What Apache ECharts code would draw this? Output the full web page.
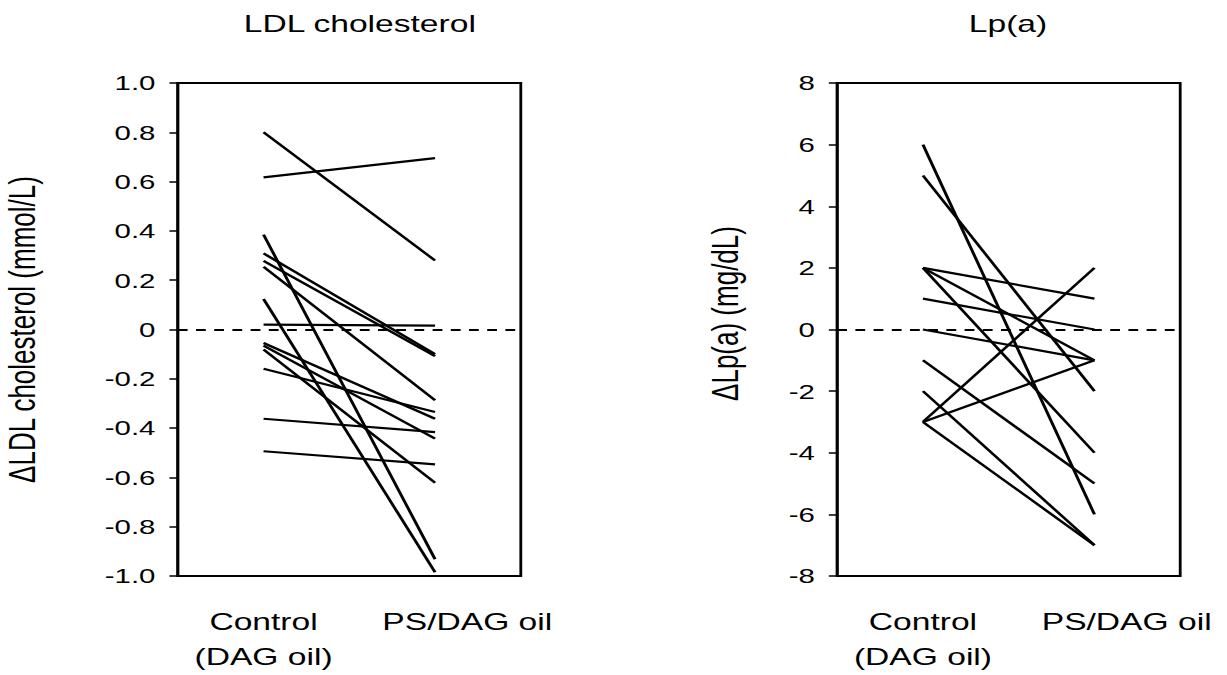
<!DOCTYPE html>
<html>
<head>
<meta charset="utf-8">
<title>LDL cholesterol and Lp(a)</title>
<script src="https://cdn.jsdelivr.net/npm/echarts@6/dist/echarts.min.js"></script>
<style>
    html, body { margin: 0; padding: 0; background: #fff; overflow: hidden; }
    /* the original figure is stretched sideways, so draw narrow and stretch */
    #chart { width: 876px; height: 675px; transform: scaleX(1.4); transform-origin: 0 0; }
</style>
</head>
<body>
<div id="chart"></div>
<script>
var groups = ['Control\n(DAG oil)', 'PS/DAG oil'];

// change in LDL cholesterol (mmol/L), one pair per subject
var ldlControl = [0.80, 0.617, 0.385, 0.309, 0.278, 0.255, 0.124, 0.02, -0.055, -0.065, -0.081, -0.159, -0.362, -0.494];
var ldlPsDag   = [0.28, 0.695, -0.932, -0.10, -0.108, -0.287, -0.985, 0.016, -0.362, -0.443, -0.622, -0.335, -0.416, -0.547];

// change in Lp(a) (mg/dL)
var lpaControl = [6, 5, 2, 2, 2, 1, 0, -1, -2, -3, -3, -3];
var lpaPsDag   = [-6, -2, 1, -1, -4, 0, -1, -5, -7, -7, -1, 2];

var ldlTicks = ['-1.0', '-0.8', '-0.6', '-0.4', '-0.2', '0', '0.2', '0.4', '0.6', '0.8', '1.0'];
var lpaTicks = ['-8', '-6', '-4', '-2', '0', '2', '4', '6', '8'];

var font = 'Liberation Sans, Arial, sans-serif';

function pairSeries(ctrl, ps, idx) {
    return ctrl.map(function (c, i) {
        var s = {
            type: 'line',
            xAxisIndex: idx,
            yAxisIndex: idx,
            data: [c, ps[i]],
            symbol: 'none',
            silent: true,
            lineStyle: { color: '#000', width: 2.2 }
        };
        if (i === 0) {
            // dashed zero line
            s.markLine = {
                silent: true,
                symbol: 'none',
                label: { show: false },
                lineStyle: { color: '#000', width: 2, type: [7, 6] },
                data: [{ yAxis: 0 }]
            };
        }
        return s;
    });
}

function xAxisFor(idx) {
    return {
        type: 'category',
        gridIndex: idx,
        data: groups,
        axisLine: { show: false },
        axisTick: { show: false },
        axisLabel: {
            interval: 0,
            hideOverlap: false,
            showMinLabel: true,
            showMaxLabel: true,
            margin: 28,
            formatter: function (v) {
                if (v.indexOf('\n') >= 0) {
                    return v.split('\n').map(function (s) { return '{c|' + s + '}'; }).join('\n');
                }
                return '{ps|' + v + '}';
            },
            rich: {
                c: { fontFamily: font, fontSize: 24, lineHeight: 35, color: '#000' },
                ps: { fontFamily: font, fontSize: 24, lineHeight: 35, color: '#000', padding: [0, 0, 0, 46] }
            }
        }
    };
}

function yAxisFor(idx, min, max, step, ticks, name, gap, namePad) {
    return {
        type: 'value',
        gridIndex: idx,
        min: min,
        max: max,
        interval: step,
        name: name,
        nameLocation: 'middle',
        nameGap: gap,
        nameTextStyle: { fontFamily: font, fontSize: 26, color: '#000', padding: namePad },
        axisLine: { show: true, lineStyle: { color: '#000', width: 2 } },
        axisTick: { show: true, length: 6, lineStyle: { color: '#000', width: 1.5 } },
        axisLabel: {
            margin: 16,
            fontFamily: font,
            fontSize: 21,
            color: '#000',
            formatter: function (v) {
                return ticks[Math.round((v - min) / step)];
            }
        },
        splitLine: { show: false }
    };
}

var myChart = echarts.init(document.getElementById('chart'), null, { renderer: 'svg' });
var option = {
    animation: false,
    backgroundColor: '#fff',
    title: [
        { text: 'LDL cholesterol', left: 257, top: 12, padding: 0, textAlign: 'center',
          textStyle: { fontFamily: font, fontSize: 24, fontWeight: 'normal', color: '#000' } },
        { text: 'Lp(a)', left: 720, top: 12, padding: 0, textAlign: 'center',
          textStyle: { fontFamily: font, fontSize: 24, fontWeight: 'normal', color: '#000' } }
    ],
    grid: [
        { left: 127, top: 83, width: 245, height: 493, show: true, borderColor: '#000', borderWidth: 2 },
        { left: 598, top: 83, width: 245, height: 493, show: true, borderColor: '#000', borderWidth: 2 }
    ],
    xAxis: [xAxisFor(0), xAxisFor(1)],
    yAxis: [
        yAxisFor(0, -1, 1, 0.2, ldlTicks, '\u0394LDL cholesterol (mmol/L)', 98, [0, 0, 0, 0]),
        yAxisFor(1, -8, 8, 2, lpaTicks, '\u0394Lp(a) (mg/dL)', 67, [0, 0, 0, 32])
    ],
    series: pairSeries(ldlControl, ldlPsDag, 0).concat(pairSeries(lpaControl, lpaPsDag, 1))
};
myChart.setOption(option);
</script>
</body>
</html>
